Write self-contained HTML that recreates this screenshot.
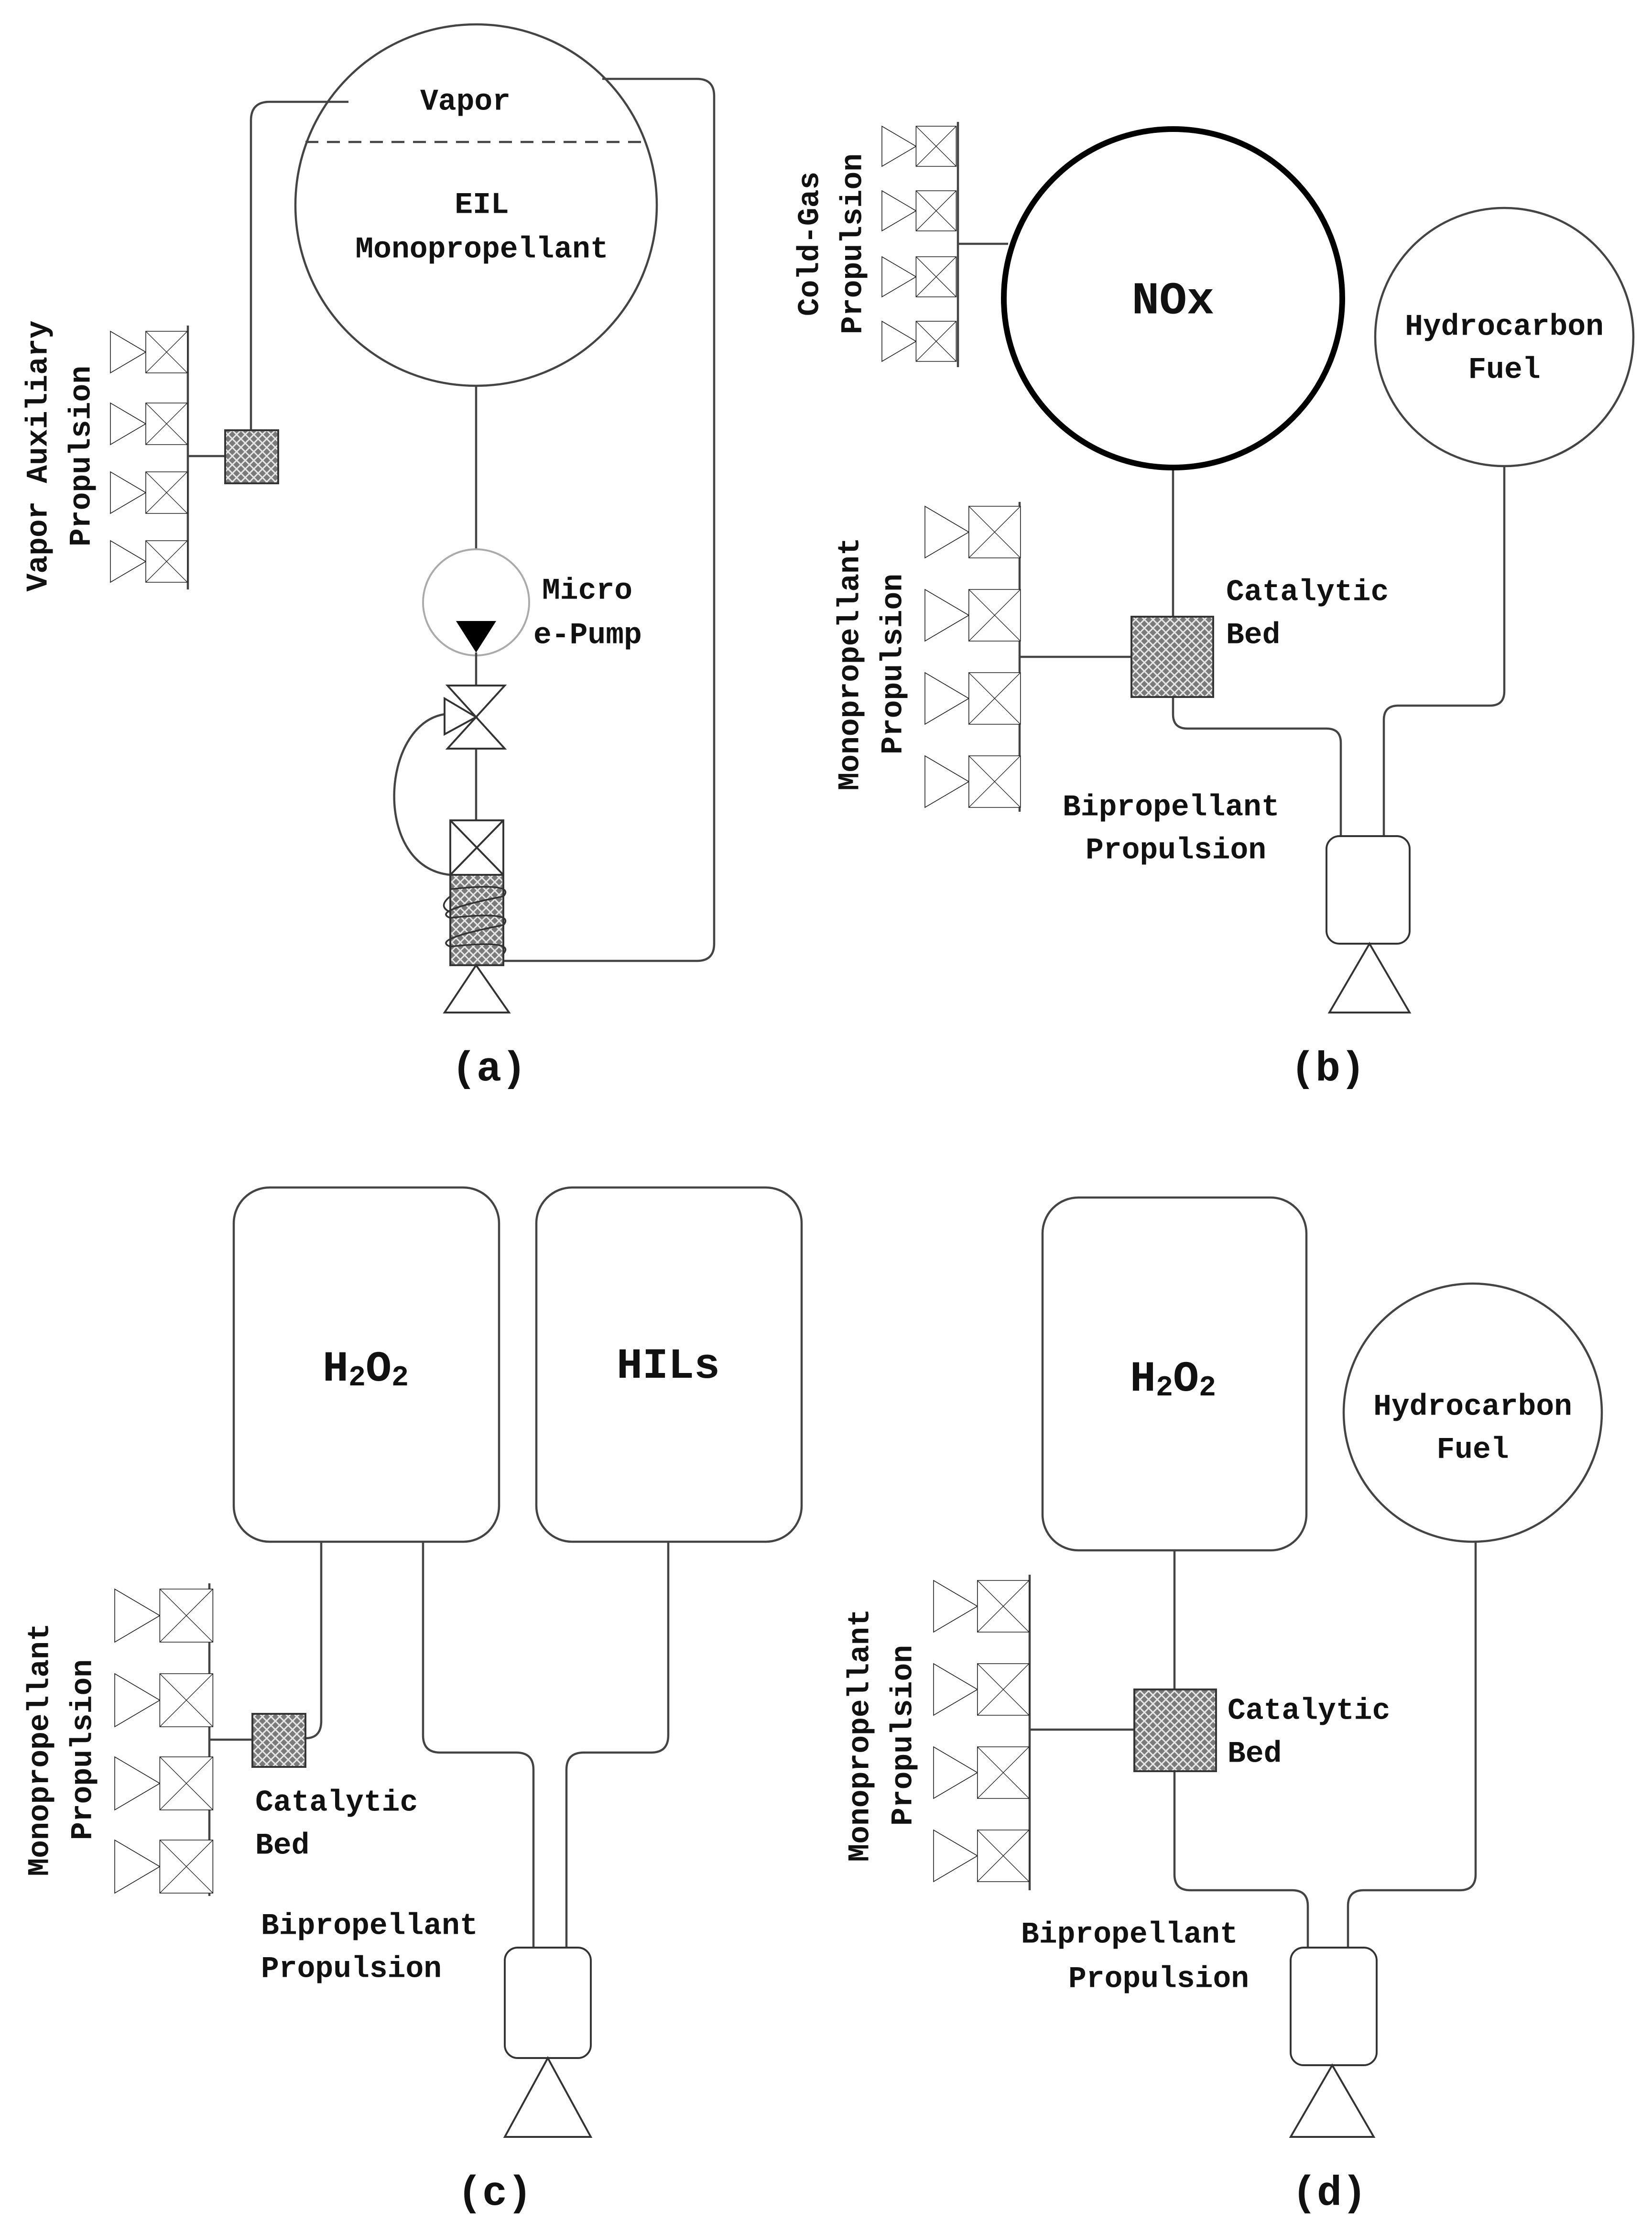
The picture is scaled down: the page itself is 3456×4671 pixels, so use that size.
<!DOCTYPE html>
<html><head><meta charset="utf-8"><style>
html,body{margin:0;padding:0;background:#fff}
svg{display:block}
text{font-family:"Liberation Mono",monospace;font-weight:bold;fill:#111}
</style></head><body>
<svg width="3456" height="4671" viewBox="0 0 1152 1557" xmlns="http://www.w3.org/2000/svg">
<defs>
<pattern id="hatch" width="6" height="6" patternUnits="userSpaceOnUse">
<rect width="6" height="6" fill="#7a7a7a"/>
<path d="M0,0L6,6M6,0L0,6" stroke="#e6e6e6" stroke-width="1"/>
</pattern>
<g id="th">
<polygon points="0,0 0,1 0.85,0.5" fill="#fff" stroke="#222" stroke-width="1.6" vector-effect="non-scaling-stroke"/>
<rect x="0.85" y="0" width="1" height="1" fill="#fff" stroke="#222" stroke-width="1.6" vector-effect="non-scaling-stroke"/>
<path d="M0.85,0L1.85,1M1.85,0L0.85,1" stroke="#222" stroke-width="1.3" vector-effect="non-scaling-stroke"/>
</g>
</defs>
<g fill="none" stroke="#444" stroke-width="1.5">
<circle cx="332" cy="143" r="126"/>
<line x1="213" y1="99" x2="451" y2="99" stroke-dasharray="9,6"/>
<path d="M243,71 H188 Q175,71 175,84 V300"/>
<path d="M420,55 H486 Q498,55 498,67 V658 Q498,670 486,670 H351"/>
<line x1="332" y1="269" x2="332" y2="383"/>
<circle cx="332" cy="420" r="37" stroke="#aaa" stroke-width="1.3"/>
<line x1="332" y1="455" x2="332" y2="478"/>
<line x1="332" y1="522" x2="332" y2="572"/>
<line x1="157" y1="318" x2="131" y2="318"/>
<line x1="131" y1="227" x2="131" y2="411"/>
<path d="M314,610 C260,605 265,505 310,498"/>
</g>
<polygon points="318,433 346,433 332,455" fill="#000"/>
<g fill="#fff" stroke="#333" stroke-width="1.3">
<polygon points="312,478 352,478 332,500 352,522 312,522 332,500"/>
<polygon points="310,487 310,512 332,500"/>
<rect x="314" y="572" width="37" height="38"/>
<path d="M314,572L351,610M351,572L314,610" fill="none"/>
<rect x="314" y="610" width="37" height="63" fill="url(#hatch)"/>
<polygon points="310,706 355,706 332,673"/>
<rect x="157" y="300" width="37" height="37" fill="url(#hatch)"/>
</g>
<g fill="none" stroke="#333" stroke-width="1.2">
<path d="M314,620 Q360,615 351,625 Q300,635 314,640"/>
<path d="M314,640 Q360,635 351,645 Q300,655 314,660"/>
<path d="M314,660 Q360,655 351,665"/>
<path d="M314,625 Q305,632 314,636"/>
</g>
<use href="#th" transform="translate(77,231) scale(29)"/>
<use href="#th" transform="translate(77,281) scale(29)"/>
<use href="#th" transform="translate(77,329) scale(29)"/>
<use href="#th" transform="translate(77,377) scale(29)"/>
<g font-size="21" dominant-baseline="central">
<text x="293" y="71">Vapor</text>
<text x="336" y="143" text-anchor="middle">EIL</text>
<text x="336" y="174" text-anchor="middle">Monopropellant</text>
<text x="378" y="412">Micro</text>
<text x="372" y="443">e-Pump</text>
<text transform="translate(27,318) rotate(-90)" text-anchor="middle">Vapor Auxiliary</text>
<text transform="translate(57,318) rotate(-90)" text-anchor="middle">Propulsion</text>
</g>
<text x="341" y="746" font-size="29" text-anchor="middle" dominant-baseline="central">(a)</text>

<g fill="none" stroke="#444" stroke-width="1.5">
<circle cx="1049" cy="235" r="90"/>
<line x1="668" y1="85" x2="668" y2="256"/>
<line x1="668" y1="170" x2="703" y2="170"/>
<line x1="818" y1="326" x2="818" y2="430"/>
<line x1="711" y1="350" x2="711" y2="566"/>
<line x1="711" y1="458" x2="789" y2="458"/>
<path d="M818,486 V498 Q818,508 828,508 H925 Q935,508 935,518 V583"/>
<path d="M1049,325 V482 Q1049,492 1039,492 H975 Q965,492 965,502 V583"/>
</g>
<circle cx="818" cy="208" r="118" fill="none" stroke="#000" stroke-width="4"/>
<g fill="#fff" stroke="#333" stroke-width="1.3">
<rect x="789" y="430" width="57" height="56" fill="url(#hatch)"/>
<rect x="925" y="583" width="58" height="75" rx="9"/>
<polygon points="927,706 983,706 955,658"/>
</g>
<use href="#th" transform="translate(615,88) scale(28)"/>
<use href="#th" transform="translate(615,133) scale(28)"/>
<use href="#th" transform="translate(615,179) scale(28)"/>
<use href="#th" transform="translate(615,224) scale(28)"/>
<use href="#th" transform="translate(645,353) scale(36)"/>
<use href="#th" transform="translate(645,411) scale(36)"/>
<use href="#th" transform="translate(645,469) scale(36)"/>
<use href="#th" transform="translate(645,527) scale(36)"/>
<g font-size="21" dominant-baseline="central">
<text x="818" y="210" font-size="32" text-anchor="middle">NOx</text>
<text x="1049" y="228" text-anchor="middle">Hydrocarbon</text>
<text x="1049" y="258" text-anchor="middle">Fuel</text>
<text x="855" y="413">Catalytic</text>
<text x="855" y="443">Bed</text>
<text x="741" y="563">Bipropellant</text>
<text x="757" y="593">Propulsion</text>
<text transform="translate(565,170) rotate(-90)" text-anchor="middle">Cold-Gas</text>
<text transform="translate(595,170) rotate(-90)" text-anchor="middle">Propulsion</text>
<text transform="translate(593,463) rotate(-90)" text-anchor="middle">Monopropellant</text>
<text transform="translate(623,463) rotate(-90)" text-anchor="middle">Propulsion</text>
</g>
<text x="926" y="746" font-size="29" text-anchor="middle" dominant-baseline="central">(b)</text>

<g fill="none" stroke="#444" stroke-width="1.5">
<rect x="163" y="828" width="185" height="247" rx="25"/>
<rect x="374" y="828" width="185" height="247" rx="25"/>
<path d="M224,1075 V1200 Q224,1212 213,1212"/>
<path d="M295,1075 V1210 Q295,1222 307,1222 H360 Q372,1222 372,1234 V1358"/>
<path d="M466,1075 V1210 Q466,1222 454,1222 H407 Q395,1222 395,1234 V1358"/>
<line x1="146" y1="1104" x2="146" y2="1322"/>
<line x1="146" y1="1213" x2="176" y2="1213"/>
</g>
<g fill="#fff" stroke="#333" stroke-width="1.3">
<rect x="176" y="1195" width="37" height="37" fill="url(#hatch)"/>
<rect x="352" y="1358" width="60" height="77" rx="9"/>
<polygon points="352,1490 412,1490 382,1435"/>
</g>
<use href="#th" transform="translate(80,1108) scale(37)"/>
<use href="#th" transform="translate(80,1167) scale(37)"/>
<use href="#th" transform="translate(80,1225) scale(37)"/>
<use href="#th" transform="translate(80,1283) scale(37)"/>
<g font-size="21" dominant-baseline="central">
<text x="255" y="955" font-size="30" text-anchor="middle">H<tspan font-size="20" dy="6">2</tspan><tspan dy="-6">O</tspan><tspan font-size="20" dy="6">2</tspan></text>
<text x="466" y="953" font-size="30" text-anchor="middle">HILs</text>
<text x="178" y="1257">Catalytic</text>
<text x="178" y="1287">Bed</text>
<text x="182" y="1343">Bipropellant</text>
<text x="182" y="1373">Propulsion</text>
<text transform="translate(28,1220) rotate(-90)" text-anchor="middle">Monopropellant</text>
<text transform="translate(58,1220) rotate(-90)" text-anchor="middle">Propulsion</text>
</g>
<text x="345" y="1530" font-size="29" text-anchor="middle" dominant-baseline="central">(c)</text>

<g fill="none" stroke="#444" stroke-width="1.5">
<rect x="727" y="835" width="184" height="246" rx="25"/>
<circle cx="1027" cy="985" r="90"/>
<line x1="819" y1="1081" x2="819" y2="1178"/>
<line x1="718" y1="1098" x2="718" y2="1318"/>
<line x1="718" y1="1206" x2="791" y2="1206"/>
<path d="M819,1235 V1307 Q819,1318 830,1318 H901 Q912,1318 912,1329 V1358"/>
<path d="M1029,1075 V1307 Q1029,1318 1018,1318 H951 Q940,1318 940,1329 V1358"/>
</g>
<g fill="#fff" stroke="#333" stroke-width="1.3">
<rect x="791" y="1178" width="57" height="57" fill="url(#hatch)"/>
<rect x="900" y="1358" width="60" height="82" rx="9"/>
<polygon points="900,1490 958,1490 929,1440"/>
</g>
<use href="#th" transform="translate(651,1102) scale(36)"/>
<use href="#th" transform="translate(651,1160) scale(36)"/>
<use href="#th" transform="translate(651,1218) scale(36)"/>
<use href="#th" transform="translate(651,1276) scale(36)"/>
<g font-size="21" dominant-baseline="central">
<text x="818" y="962" font-size="30" text-anchor="middle">H<tspan font-size="20" dy="6">2</tspan><tspan dy="-6">O</tspan><tspan font-size="20" dy="6">2</tspan></text>
<text x="1027" y="981" text-anchor="middle">Hydrocarbon</text>
<text x="1027" y="1011" text-anchor="middle">Fuel</text>
<text x="856" y="1193">Catalytic</text>
<text x="856" y="1223">Bed</text>
<text x="712" y="1349">Bipropellant</text>
<text x="745" y="1380">Propulsion</text>
<text transform="translate(600,1210) rotate(-90)" text-anchor="middle">Monopropellant</text>
<text transform="translate(630,1210) rotate(-90)" text-anchor="middle">Propulsion</text>
</g>
<text x="927" y="1530" font-size="29" text-anchor="middle" dominant-baseline="central">(d)</text>
</svg>
</body></html>
